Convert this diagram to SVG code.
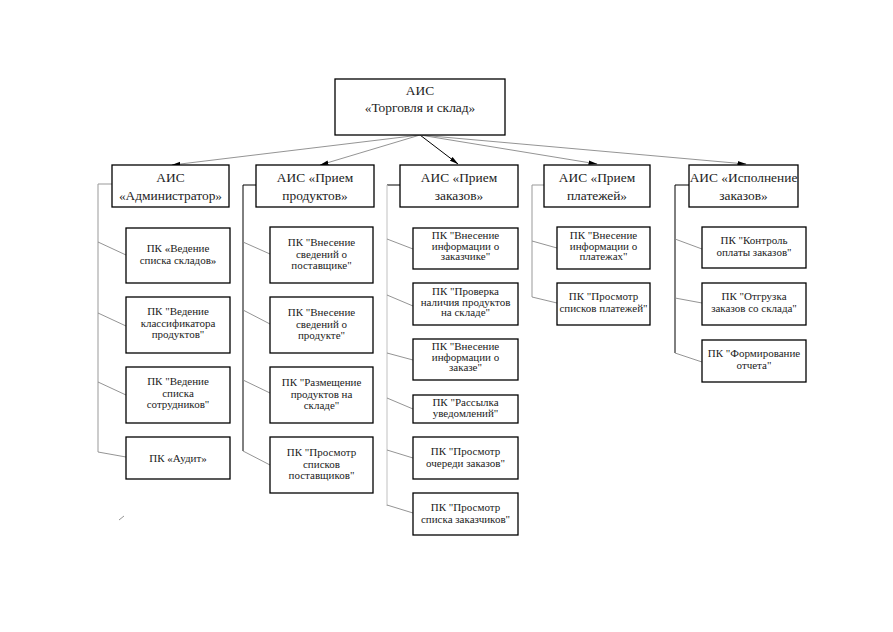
<svg xmlns="http://www.w3.org/2000/svg" width="893" height="632" viewBox="0 0 893 632" font-family="Liberation Serif, Times New Roman, serif">
<style>
rect.n{fill:#fff;stroke:#000;stroke-width:1.3}
text{fill:#222;text-anchor:middle}
.t1{font-size:13.4px}
.t2{font-size:11px}
.c{fill:none;stroke:#888;stroke-width:0.9}
.k{fill:none;stroke:#000;stroke-width:1}
.g{fill:none;stroke:#999;stroke-width:1}
.lg{fill:none;stroke:#ccc;stroke-width:1.2}
</style>
<defs>
<marker id="ah" markerWidth="9" markerHeight="6" refX="8.5" refY="3" orient="auto" markerUnits="userSpaceOnUse">
<path d="M0,0.8 L9,3 L0,5.2 Z" fill="#000"/>
</marker>
</defs>
<rect width="893" height="632" fill="#fff"/>
<g id="connectors">
<line class="c" x1="420" y1="135" x2="172" y2="165" marker-end="url(#ah)"/>
<line class="c" x1="420" y1="135" x2="320" y2="165" marker-end="url(#ah)"/>
<line class="k" x1="420" y1="135" x2="458" y2="164" stroke-width="0.8" marker-end="url(#ah)"/>
<line class="c" x1="420" y1="135" x2="597" y2="164" marker-end="url(#ah)"/>
<line class="c" x1="420" y1="135" x2="746" y2="164" marker-end="url(#ah)"/>
<polyline class="g" points="112,184 98,184 98,452"/>
<polyline class="k" points="256,185 243,185 243,451"/>
<line class="k" x1="400" y1="185" x2="387" y2="185"/>
<line class="lg" x1="387" y1="185" x2="387" y2="506"/>
<polyline class="g" points="544,185 532,185 532,297"/>
<polyline class="k" points="689,185 675,185 675,353"/>
<line class="c" x1="98" y1="242" x2="126" y2="255"/>
<line class="c" x1="98" y1="313" x2="126" y2="326"/>
<line class="c" x1="98" y1="382" x2="126" y2="395"/>
<line class="c" x1="98" y1="452" x2="126" y2="457"/>
<line class="c" x1="243" y1="242" x2="270" y2="254"/>
<line class="c" x1="243" y1="310" x2="270" y2="324"/>
<line class="c" x1="243" y1="380" x2="270" y2="393"/>
<line class="c" x1="243" y1="451" x2="270" y2="465"/>
<line class="c" x1="387" y1="239" x2="413" y2="249"/>
<line class="c" x1="387" y1="295" x2="413" y2="306"/>
<line class="c" x1="387" y1="353" x2="413" y2="360"/>
<line class="c" x1="387" y1="398" x2="413" y2="409"/>
<line class="c" x1="387" y1="450" x2="413" y2="458"/>
<line class="c" x1="387" y1="505" x2="413" y2="513"/>
<line class="c" x1="532" y1="241" x2="557" y2="248"/>
<line class="c" x1="532" y1="297" x2="557" y2="303"/>
<line class="c" x1="675" y1="239" x2="702" y2="249"/>
<line class="c" x1="675" y1="298" x2="702" y2="303"/>
<line class="c" x1="675" y1="353" x2="702" y2="362"/>
<line class="c" x1="119" y1="520" x2="124" y2="516"/>
</g>
<g id="root"><rect class="n" x="335" y="79" width="170" height="56"/><text class="t1" x="420" y="95">АИС</text><text class="t1" x="420" y="112">«Торговля и склад»</text></g>
<g id="admin"><rect class="n" x="112" y="165" width="117" height="42"/><text class="t1" x="170.5" y="182">АИС</text><text class="t1" x="170.5" y="200">«Администратор»</text></g>
<g id="products"><rect class="n" x="256" y="165" width="118" height="42"/><text class="t1" x="315" y="182">АИС «Прием</text><text class="t1" x="315" y="200">продуктов»</text></g>
<g id="orders"><rect class="n" x="400" y="165" width="118" height="42"/><text class="t1" x="459" y="182">АИС «Прием</text><text class="t1" x="459" y="200">заказов»</text></g>
<g id="payments"><rect class="n" x="544" y="165" width="106" height="42"/><text class="t1" x="597" y="182">АИС «Прием</text><text class="t1" x="597" y="200">платежей»</text></g>
<g id="execution"><rect class="n" x="689" y="165" width="109" height="42"/><text class="t1" x="743.5" y="182">АИС «Исполнение</text><text class="t1" x="743.5" y="200">заказов»</text></g>

<g id="a1"><rect class="n" x="126" y="228" width="104" height="55"/><text class="t2" x="178" y="252">ПК «Ведение</text><text class="t2" x="178" y="263.5">списка складов»</text></g>
<g id="a2"><rect class="n" x="126" y="297" width="104" height="56"/><text class="t2" x="178" y="315">ПК "Ведение</text><text class="t2" x="178" y="326.5">классификатора</text><text class="t2" x="178" y="338">продуктов"</text></g>
<g id="a3"><rect class="n" x="126" y="367" width="104" height="56"/><text class="t2" x="178" y="385">ПК "Ведение</text><text class="t2" x="178" y="396.5">списка</text><text class="t2" x="178" y="408">сотрудников"</text></g>
<g id="a4"><rect class="n" x="126" y="437" width="104" height="42"/><text class="t2" x="178" y="462">ПК «Аудит»</text></g>

<g id="p1"><rect class="n" x="270" y="227" width="103" height="56"/><text class="t2" x="321.5" y="246">ПК "Внесение</text><text class="t2" x="321.5" y="257.5">сведений о</text><text class="t2" x="321.5" y="269">поставщике"</text></g>
<g id="p2"><rect class="n" x="270" y="297" width="103" height="56"/><text class="t2" x="321.5" y="316">ПК "Внесение</text><text class="t2" x="321.5" y="327.5">сведений о</text><text class="t2" x="321.5" y="339">продукте"</text></g>
<g id="p3"><rect class="n" x="270" y="367" width="103" height="56"/><text class="t2" x="321.5" y="386">ПК "Размещение</text><text class="t2" x="321.5" y="397.5">продуктов на</text><text class="t2" x="321.5" y="409">складе"</text></g>
<g id="p4"><rect class="n" x="270" y="437" width="103" height="56"/><text class="t2" x="321.5" y="456">ПК "Просмотр</text><text class="t2" x="321.5" y="467.5">списков</text><text class="t2" x="321.5" y="479">поставщиков"</text></g>

<g id="o1"><rect class="n" x="413" y="228" width="105" height="41"/><text class="t2" x="465.5" y="239">ПК "Внесение</text><text class="t2" x="465.5" y="249.5">информации о</text><text class="t2" x="465.5" y="260">заказчике"</text></g>
<g id="o2"><rect class="n" x="413" y="283" width="105" height="42"/><text class="t2" x="465.5" y="295">ПК "Проверка</text><text class="t2" x="465.5" y="305.5">наличия продуктов</text><text class="t2" x="465.5" y="316">на складе"</text></g>
<g id="o3"><rect class="n" x="413" y="339" width="105" height="41"/><text class="t2" x="465.5" y="350">ПК "Внесение</text><text class="t2" x="465.5" y="360.5">информации о</text><text class="t2" x="465.5" y="371">заказе"</text></g>
<g id="o4"><rect class="n" x="413" y="395" width="105" height="28"/><text class="t2" x="465.5" y="406">ПК "Рассылка</text><text class="t2" x="465.5" y="416.5">уведомлений"</text></g>
<g id="o5"><rect class="n" x="413" y="437" width="105" height="42"/><text class="t2" x="465.5" y="455">ПК "Просмотр</text><text class="t2" x="465.5" y="466.5">очереди заказов"</text></g>
<g id="o6"><rect class="n" x="413" y="493" width="105" height="42"/><text class="t2" x="465.5" y="511">ПК "Просмотр</text><text class="t2" x="465.5" y="522.5">списка заказчиков"</text></g>

<g id="pay1"><rect class="n" x="557" y="227" width="93" height="42"/><text class="t2" x="603.5" y="239">ПК "Внесение</text><text class="t2" x="603.5" y="249.5">информации о</text><text class="t2" x="603.5" y="260">платежах"</text></g>
<g id="pay2"><rect class="n" x="557" y="283" width="93" height="42"/><text class="t2" x="603.5" y="300">ПК "Просмотр</text><text class="t2" x="603.5" y="311.5">списков платежей"</text></g>

<g id="e1"><rect class="n" x="702" y="227" width="104" height="41"/><text class="t2" x="754" y="244">ПК "Контроль</text><text class="t2" x="754" y="255.5">оплаты заказов"</text></g>
<g id="e2"><rect class="n" x="702" y="283" width="104" height="42"/><text class="t2" x="754" y="300">ПК "Отгрузка</text><text class="t2" x="754" y="311.5">заказов со склада"</text></g>
<g id="e3"><rect class="n" x="702" y="340" width="104" height="42"/><text class="t2" x="754" y="357">ПК "Формирование</text><text class="t2" x="754" y="368.5">отчета"</text></g>
</svg>
